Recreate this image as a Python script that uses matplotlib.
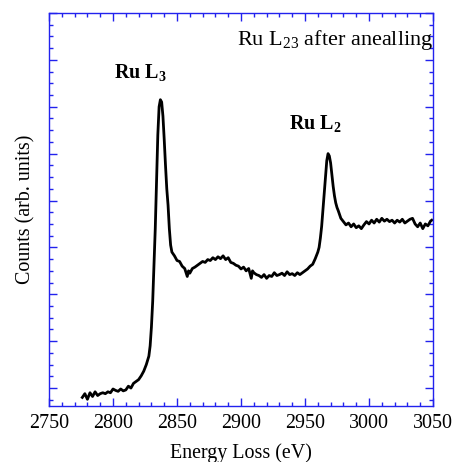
import matplotlib
matplotlib.use("Agg")
import matplotlib.pyplot as plt
from matplotlib.ticker import MultipleLocator, NullFormatter

plt.rcParams['font.family'] = ['Liberation Serif', 'DejaVu Serif']
plt.rcParams['mathtext.fontset'] = 'custom'
plt.rcParams['mathtext.rm'] = 'Liberation Serif'
plt.rcParams['mathtext.it'] = 'Liberation Serif:italic'
plt.rcParams['mathtext.bf'] = 'Liberation Serif:bold'

energy = [2776, 2778, 2780, 2782, 2784, 2786, 2788, 2790, 2792, 2794, 2796, 2798,
          2800, 2802, 2804, 2806, 2808, 2810, 2812, 2814, 2816, 2818, 2820, 2822,
          2824, 2826, 2828, 2829, 2830, 2831, 2832, 2833, 2834, 2835, 2836, 2837,
          2838, 2839, 2840, 2841, 2842, 2843, 2844, 2845, 2846, 2848, 2850, 2852,
          2854, 2856, 2858, 2859, 2860, 2862, 2864, 2866, 2868, 2870, 2872, 2874,
          2876, 2878, 2880, 2882, 2884, 2886, 2888, 2890, 2892, 2894, 2896, 2898,
          2900, 2902, 2904, 2906, 2908, 2909, 2910, 2912, 2914, 2916, 2918, 2920,
          2922, 2924, 2926, 2928, 2930, 2932, 2934, 2936, 2938, 2940, 2942, 2944,
          2946, 2948, 2950, 2952, 2954, 2956, 2958, 2960, 2961, 2962, 2963, 2964,
          2965, 2966, 2967, 2968, 2969, 2970, 2971, 2972, 2973, 2974, 2975, 2976,
          2977, 2978, 2980, 2982, 2984, 2986, 2988, 2990, 2992, 2994, 2996, 2998,
          3000, 3002, 3004, 3006, 3008, 3010, 3012, 3014, 3016, 3018, 3020, 3022,
          3024, 3026, 3028, 3030, 3032, 3034, 3036, 3038, 3040, 3042, 3044, 3046,
          3048, 3049]
counts = [-0.20, -0.12, -0.24, -0.10, -0.18, -0.08, -0.16, -0.12, -0.10, -0.12, -0.08, -0.10,
          -0.02, -0.05, -0.07, -0.02, -0.06, -0.04, 0.04, 0.00, 0.10, 0.14, 0.18, 0.26,
          0.36, 0.50, 0.68, 0.90, 1.30, 1.85, 2.60, 3.40, 4.40, 5.40, 6.00, 6.15,
          6.10, 5.80, 5.30, 4.75, 4.25, 3.90, 3.40, 3.05, 2.90, 2.82, 2.72, 2.70,
          2.60, 2.55, 2.38, 2.50, 2.45, 2.55, 2.58, 2.62, 2.66, 2.70, 2.68, 2.74,
          2.72, 2.78, 2.74, 2.80, 2.76, 2.82, 2.74, 2.78, 2.68, 2.66, 2.62, 2.60,
          2.54, 2.58, 2.50, 2.55, 2.34, 2.50, 2.46, 2.42, 2.40, 2.36, 2.42, 2.34,
          2.40, 2.38, 2.46, 2.40, 2.42, 2.45, 2.40, 2.48, 2.42, 2.44, 2.40, 2.46,
          2.42, 2.46, 2.50, 2.54, 2.60, 2.64, 2.76, 2.90, 3.00, 3.20, 3.45, 3.80,
          4.15, 4.50, 4.85, 5.00, 4.95, 4.80, 4.55, 4.30, 4.10, 3.95, 3.85, 3.78,
          3.70, 3.62, 3.55, 3.48, 3.52, 3.44, 3.50, 3.42, 3.46, 3.40, 3.48, 3.55,
          3.50, 3.58, 3.52, 3.60, 3.54, 3.62, 3.56, 3.60, 3.55, 3.58, 3.52, 3.58,
          3.54, 3.60, 3.52, 3.56, 3.60, 3.62, 3.50, 3.44, 3.52, 3.40, 3.50, 3.46,
          3.56, 3.58]

x_ticks = [2750, 2800, 2850, 2900, 2950, 3000, 3050]
title_text = r'Ru L$_{23}$ after anealling'
peak_labels = [r'Ru L$_\mathbf{3}$', r'Ru L$_\mathbf{2}$']
peak_label_pos = [(2800.5, 6.62), (2937.5, 5.52)]

blue = '#2222ee'
fig = plt.figure(figsize=(4.56, 4.62), dpi=100)
ax = fig.add_axes([0.1075, 0.1212, 0.8421, 0.8507])
ax.plot(energy, counts, color='black', lw=2.0)
ax.set_xlim(2750, 3050)
ax.set_ylim(-0.383, 8.0)
ax.set_xticks(x_ticks)
ax.xaxis.set_minor_locator(MultipleLocator(10))
ax.yaxis.set_major_locator(MultipleLocator(1))
ax.yaxis.set_minor_locator(MultipleLocator(0.25))
ax.yaxis.set_major_formatter(NullFormatter())
for s in ax.spines.values():
    s.set_color(blue)
    s.set_linewidth(1.0)
ax.tick_params(which='both', direction='in', top=True, right=True, color=blue, width=1.0)
ax.tick_params(which='major', length=6, labelsize=14.4, pad=6)
ax.tick_params(which='minor', length=3)
ax.set_xlabel('Energy Loss (eV)', fontsize=14.4, labelpad=7)
ax.set_ylabel('Counts (arb. units)', fontsize=14.4, labelpad=4)

ax.text(1.0, 0.918, title_text, transform=ax.transAxes, ha='right', va='baseline', fontsize=16)
for (px, py), lab in zip(peak_label_pos, peak_labels):
    ax.text(px, py, lab, fontsize=14.4, fontweight='bold', ha='left', va='baseline')

fig.savefig('out.png', dpi=100)
